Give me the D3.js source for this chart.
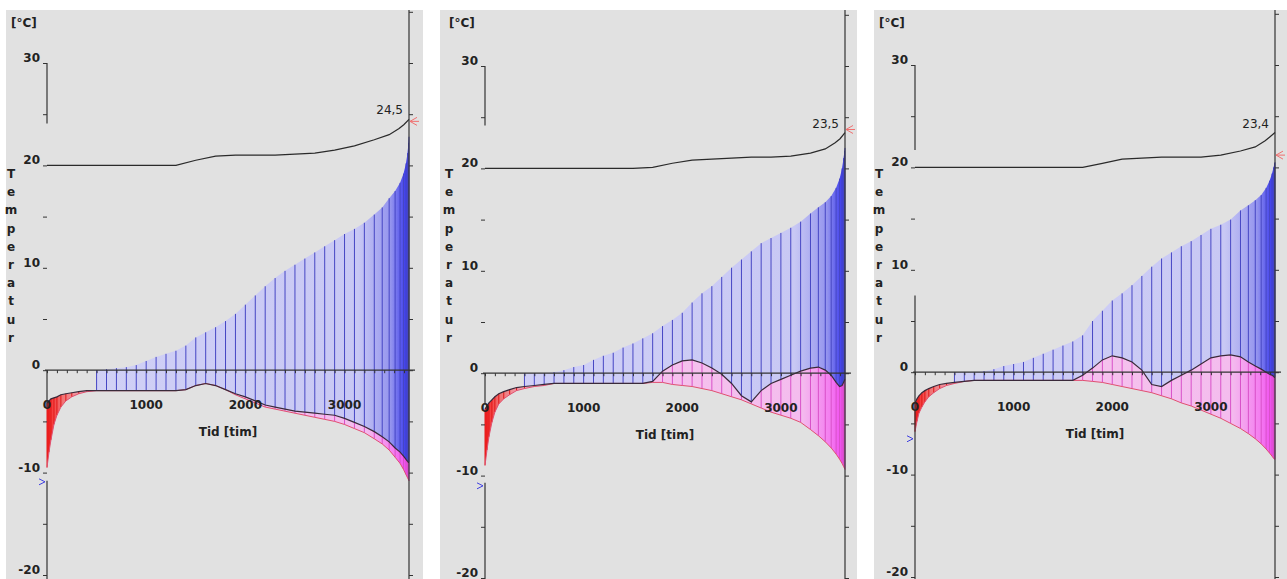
<!DOCTYPE html>
<html>
<head>
<meta charset="utf-8">
<script src="https://cdn.jsdelivr.net/npm/d3@7"></script>
<style>
  body { margin: 0; background: #fff; }
  svg { display: block; font-family: "DejaVu Sans", "Liberation Sans", sans-serif; }
</style>
</head>
<body>
<svg id="chart" width="1287" height="579"></svg>
<script>
// sample times [tim] for the filled bands
const tid = [0, 20, 40, 70, 100, 140, 190, 250, 320, 400,
  500, 600, 700, 800, 900, 1000, 1100, 1200, 1300, 1400,
  1500, 1600, 1700, 1800, 1900, 2000, 2100, 2200, 2300, 2400,
  2500, 2600, 2700, 2800, 2900, 3000, 3100, 3200, 3300,
  3380, 3450, 3510, 3560, 3595, 3620, 3635, 3645, 3650];

// upper edge of the blue band
const top1 = [null, null, null, null, null, null, null, null, null, null,
  0.0, 0.1, 0.2, 0.3, 0.5, 0.9, 1.3, 1.6, 1.9, 2.4,
  3.2, 3.7, 4.2, 4.8, 5.5, 6.4, 7.3, 8.2, 9.0, 9.7,
  10.3, 10.9, 11.5, 12.1, 12.7, 13.3, 13.8, 14.4, 15.2,
  15.9, 16.8, 17.5, 18.3, 19.2, 20.2, 21.2, 22.2, 22.8];
const top2 = [null, null, null, null, null, null, null, null, null, 0.0,
  0.0, 0.0, 0.1, 0.3, 0.6, 0.8, 1.3, 1.7, 2.0, 2.5,
  2.9, 3.4, 3.9, 4.6, 5.2, 5.9, 6.9, 7.8, 8.5, 9.4,
  10.3, 11.1, 11.9, 12.7, 13.2, 13.7, 14.2, 14.8, 15.6,
  16.2, 16.7, 17.3, 18.1, 19.0, 20.0, 21.0, 21.7, 22.0];
const top3 = [null, null, null, null, null, null, null, null, null, 0.0,
  0.0, 0.0, 0.1, 0.3, 0.6, 0.8, 1.0, 1.4, 1.8, 2.2,
  2.6, 3.0, 3.6, 5.0, 6.0, 7.0, 7.7, 8.5, 9.4, 10.3,
  11.1, 11.7, 12.3, 12.8, 13.4, 14.0, 14.4, 14.9, 15.8,
  16.3, 16.8, 17.3, 18.0, 18.7, 19.4, 20.0, 20.4, 20.5];

// black line between the bands
const mid1 = [-3.2, -3.0, -2.8, -2.7, -2.6, -2.4, -2.3, -2.2, -2.1, -2.0,
  -2.0, -2.0, -2.0, -2.0, -2.0, -2.0, -2.0, -2.0, -2.0, -1.9,
  -1.5, -1.3, -1.5, -1.9, -2.3, -2.6, -3.0, -3.4, -3.6, -3.8,
  -4.0, -4.1, -4.2, -4.3, -4.4, -4.7, -5.1, -5.5, -6.0,
  -6.5, -7.0, -7.6, -8.0, -8.4, -8.7, -8.9, -9.0, -9.0];
const mid2 = [-3.5, -3.2, -2.9, -2.6, -2.3, -2.0, -1.8, -1.6, -1.4, -1.3,
  -1.2, -1.1, -1.0, -1.0, -1.0, -1.0, -1.0, -1.0, -1.0, -1.0,
  -1.0, -1.0, -0.8, 0.2, 0.8, 1.2, 1.3, 1.0, 0.5, -0.1,
  -1.0, -2.2, -2.8, -1.7, -1.0, -0.6, -0.2, 0.2, 0.5,
  0.6, 0.3, -0.2, -0.9, -1.3, -1.2, -0.9, -0.7, -0.6];
const mid3 = [-3.0, -2.6, -2.3, -2.0, -1.8, -1.6, -1.4, -1.2, -1.1, -1.0,
  -0.9, -0.8, -0.8, -0.8, -0.8, -0.8, -0.8, -0.8, -0.8, -0.8,
  -0.8, -0.8, -0.3, 0.4, 1.2, 1.6, 1.4, 1.0, 0.2, -1.2,
  -1.4, -0.8, -0.3, 0.2, 0.8, 1.4, 1.6, 1.7, 1.5,
  1.0, 0.6, 0.3, 0.0, -0.2, -0.3, -0.4, -0.5, -0.5];

// lower edge of the red / pink band
const low1 = [-9.5, -8.0, -6.8, -5.3, -4.4, -3.6, -3.0, -2.6, -2.3, -2.1,
  -2.0, -2.0, -2.0, -2.0, -2.0, -2.0, -2.0, -2.0, -2.0, -1.9,
  -1.5, -1.3, -1.5, -1.9, -2.4, -2.8, -3.2, -3.6, -3.8, -4.0,
  -4.2, -4.4, -4.6, -4.8, -5.0, -5.3, -5.7, -6.1, -6.7,
  -7.2, -7.8, -8.5, -9.1, -9.7, -10.2, -10.5, -10.7, -10.8];
const low2 = [-9.0, -7.5, -6.2, -4.8, -3.8, -3.0, -2.5, -2.1, -1.7, -1.5,
  -1.3, -1.2, -1.0, -1.0, -1.0, -1.0, -1.0, -1.0, -1.0, -1.0,
  -1.0, -1.0, -0.9, -0.9, -1.1, -1.2, -1.3, -1.5, -1.7, -2.0,
  -2.3, -2.6, -3.0, -3.4, -3.8, -4.1, -4.4, -4.8, -5.5,
  -6.1, -6.7, -7.3, -7.9, -8.4, -8.8, -9.1, -9.3, -9.4];
const low3 = [-5.8, -4.8, -4.0, -3.4, -2.9, -2.4, -2.0, -1.6, -1.3, -1.1,
  -0.9, -0.8, -0.8, -0.8, -0.8, -0.8, -0.8, -0.8, -0.8, -0.8,
  -0.8, -0.8, -0.8, -0.9, -1.0, -1.2, -1.4, -1.6, -1.8, -2.0,
  -2.3, -2.6, -3.0, -3.3, -3.7, -4.1, -4.5, -5.0, -5.5,
  -6.0, -6.5, -7.0, -7.5, -7.9, -8.2, -8.4, -8.5, -8.5];

// indoor temperature curve
const tidT = [0, 1300, 1500, 1700, 1900, 2100, 2300, 2500, 2700, 2900, 3100, 3300, 3450, 3550, 3600, 3650];
const inne1 = [20.0, 20.0, 20.5, 20.9, 21.0, 21.0, 21.0, 21.1, 21.2, 21.5, 21.9, 22.5, 23.0, 23.6, 24.0, 24.5];
const inne2 = [20.0, 20.0, 20.0, 20.1, 20.5, 20.8, 20.9, 21.0, 21.1, 21.1, 21.2, 21.5, 21.9, 22.5, 22.9, 23.5];
const inne3 = [20.0, 20.0, 20.0, 20.0, 20.4, 20.8, 20.9, 21.0, 21.0, 21.0, 21.2, 21.6, 22.0, 22.6, 23.0, 23.4];

// small markers on the axes
const minMark = [-10.9, -11.0, -6.5];
const maxMark = [24.3, 23.8, 21.2];

// visible pieces of the left axis line
const leftAxisParts = [
  [[30, 24.1], [0, -3.6], [-10.8, -20.5]],
  [[30, 24.2], [0, -3.0], [-10.7, -20.5]],
  [[30, 21.7], [7.5, -20.5]]
];

const yLabels = [30, 20, 10, 0, -10, -20];
const xLabels = [0, 1000, 2000, 3000];
const yTitle = "Temperatur";
const xTitle = "Tid [tim]";
const unit = "[°C]";

const panels = [
  { bgX: 6, bgW: 417, axisX: 47, axisW: 362, y30: 63, top: top1, mid: mid1, low: low1, inne: inne1 },
  { bgX: 440, bgW: 417, axisX: 485, axisW: 360, y30: 66, top: top2, mid: mid2, low: low2, inne: inne2 },
  { bgX: 874, bgW: 413, axisX: 915, axisW: 360, y30: 65, top: top3, mid: mid3, low: low3, inne: inne3 }
];

const svg = d3.select("#chart");
const defs = svg.append("defs");
const fmt = v => d3.format(".1f")(v).replace(".", ",");

panels.forEach((p, k) => {
  const x = d3.scaleLinear().domain([0, 3650]).range([p.axisX, p.axisX + p.axisW]);
  const y = d3.scaleLinear().domain([30, -20]).range([p.y30, p.y30 + 512]);
  const g = svg.append("g");
  const idx = d3.range(tid.length);

  g.append("rect")
    .attr("x", p.bgX).attr("y", 10)
    .attr("width", p.bgW).attr("height", 569)
    .attr("fill", "#e1e1e1");

  // gradients for the bands
  const blueGrad = defs.append("linearGradient")
    .attr("id", "blue" + k).attr("gradientUnits", "userSpaceOnUse")
    .attr("x1", x(0)).attr("x2", x(3650)).attr("y1", 0).attr("y2", 0);
  [[0, "#d2d2f6"], [0.86, "#c8c8f4"], [0.95, "#9494ee"], [1, "#2c2cec"]].forEach(s =>
    blueGrad.append("stop").attr("offset", s[0]).attr("stop-color", s[1]));

  const pinkGrad = defs.append("linearGradient")
    .attr("id", "pink" + k).attr("gradientUnits", "userSpaceOnUse")
    .attr("x1", x(0)).attr("x2", x(3650)).attr("y1", 0).attr("y2", 0);
  [[0, "#f82020"], [0.04, "#f07070"], [0.12, "#f2b4c8"], [0.2, "#f6c6ec"], [0.88, "#f4bcee"], [0.96, "#f47cf0"], [1, "#f040f0"]].forEach(s =>
    pinkGrad.append("stop").attr("offset", s[0]).attr("stop-color", s[1]));

  // blue band: mid line up to top edge
  const blueArea = d3.area()
    .defined(i => p.top[i] != null)
    .x(i => x(tid[i]))
    .y0(i => y(p.mid[i]))
    .y1(i => y(p.top[i]));
  g.append("path").datum(idx).attr("d", blueArea).attr("fill", "url(#blue" + k + ")");

  // red / pink band: low edge up to mid line
  const pinkArea = d3.area()
    .x(i => x(tid[i]))
    .y0(i => y(p.low[i]))
    .y1(i => y(p.mid[i]));
  g.append("path").datum(idx).attr("d", pinkArea).attr("fill", "url(#pink" + k + ")");

  // hatch lines
  g.selectAll(".hb").data(idx.filter(i => p.top[i] != null && p.top[i] > p.mid[i]))
    .enter().append("line")
    .attr("x1", i => x(tid[i])).attr("x2", i => x(tid[i]))
    .attr("y1", i => y(p.mid[i])).attr("y2", i => y(p.top[i]))
    .attr("stroke", "#4646c4").attr("stroke-width", 1);

  g.selectAll(".hp").data(idx.filter(i => p.mid[i] > p.low[i]))
    .enter().append("line")
    .attr("x1", i => x(tid[i])).attr("x2", i => x(tid[i]))
    .attr("y1", i => y(p.low[i])).attr("y2", i => y(p.mid[i]))
    .attr("stroke", i => tid[i] < 600 ? "#e01818" : "#d850c8").attr("stroke-width", 1);

  // lower edge and mid line
  g.append("path").datum(idx)
    .attr("d", d3.line().x(i => x(tid[i])).y(i => y(p.low[i])))
    .attr("fill", "none").attr("stroke", "#e05070").attr("stroke-width", 1);
  g.append("path").datum(idx)
    .attr("d", d3.line().x(i => x(tid[i])).y(i => y(p.mid[i])))
    .attr("fill", "none").attr("stroke", "#3a2a3a").attr("stroke-width", 1.2);

  // x axis at 0
  g.append("line")
    .attr("x1", p.axisX - 2).attr("x2", p.axisX + p.axisW + 6)
    .attr("y1", y(0)).attr("y2", y(0))
    .attr("stroke", "#333").attr("stroke-width", 1.2);
  const xAxis = g.append("g")
    .attr("transform", `translate(0,${y(0)})`)
    .call(d3.axisBottom(x).tickValues(d3.range(0, 3700, 100)).tickSize(3).tickFormat(""));
  xAxis.select(".domain").remove();
  xAxis.selectAll("line").attr("stroke", "#333");

  g.selectAll(".xl").data(xLabels).enter().append("text")
    .attr("x", d => x(d)).attr("y", y(0) + 39)
    .attr("text-anchor", "middle")
    .attr("font-size", "12px").attr("font-weight", "bold").attr("fill", "#222")
    .text(d => d);

  g.append("text")
    .attr("x", p.axisX + p.axisW / 2).attr("y", y(0) + 66)
    .attr("text-anchor", "middle")
    .attr("font-size", "12px").attr("font-weight", "bold").attr("fill", "#222")
    .text(xTitle);

  // left axis
  const leftAxis = g.append("g")
    .attr("transform", `translate(${p.axisX},0)`)
    .call(d3.axisLeft(y).tickValues(d3.range(-20, 31, 5)).tickSize(4).tickFormat(""));
  leftAxis.select(".domain").remove();
  leftAxis.selectAll("line").attr("stroke", "#333");
  leftAxisParts[k].forEach(s => {
    g.append("line")
      .attr("x1", p.axisX).attr("x2", p.axisX)
      .attr("y1", y(s[0])).attr("y2", y(s[1]))
      .attr("stroke", "#333").attr("stroke-width", 1.2);
  });

  g.selectAll(".yl").data(yLabels).enter().append("text")
    .attr("x", p.axisX - 7).attr("y", d => y(d) - 1)
    .attr("text-anchor", "end")
    .attr("font-size", "12px").attr("font-weight", "bold").attr("fill", "#222")
    .text(d => d);

  // right axis
  const rightX = p.axisX + p.axisW;
  g.append("line")
    .attr("x1", rightX).attr("x2", rightX)
    .attr("y1", 10).attr("y2", 579)
    .attr("stroke", "#333").attr("stroke-width", 1.2);
  const rightAxis = g.append("g")
    .attr("transform", `translate(${rightX},0)`)
    .call(d3.axisRight(y).tickValues(d3.range(-20, 36, 5)).tickSize(4).tickFormat(""));
  rightAxis.select(".domain").remove();
  rightAxis.selectAll("line").attr("stroke", "#333");

  // titles
  g.append("text")
    .attr("x", p.axisX - 36).attr("y", 27)
    .attr("font-size", "12px").attr("font-weight", "bold").attr("fill", "#222")
    .text(unit);

  g.selectAll(".yt").data(yTitle.split("")).enter().append("text")
    .attr("x", p.axisX - 36).attr("y", (d, i) => 178 + i * 18.2)
    .attr("text-anchor", "middle")
    .attr("font-size", "12px").attr("font-weight", "bold").attr("fill", "#222")
    .text(d => d);

  // indoor temperature
  g.append("path").datum(p.inne)
    .attr("d", d3.line().x((d, i) => x(tidT[i])).y(d => y(d)))
    .attr("fill", "none").attr("stroke", "#2a2a2a").attr("stroke-width", 1.2);

  const last = p.inne[p.inne.length - 1];
  g.append("text")
    .attr("x", rightX - 6).attr("y", y(last) - 5)
    .attr("text-anchor", "end")
    .attr("font-size", "12px").attr("fill", "#222")
    .text(fmt(last));

  // markers
  const ym = y(maxMark[k]);
  g.append("path")
    .attr("d", `M${rightX + 8},${ym - 4}L${rightX + 1},${ym}L${rightX + 8},${ym + 4}M${rightX + 1},${ym}H${rightX + 10}`)
    .attr("fill", "none").attr("stroke", "#f07070").attr("stroke-width", 1);
  const yn = y(minMark[k]);
  g.append("path")
    .attr("d", `M${p.axisX - 8},${yn - 3}L${p.axisX - 2},${yn}L${p.axisX - 8},${yn + 3}`)
    .attr("fill", "none").attr("stroke", "#4040e0").attr("stroke-width", 1);
});
</script>
</body>
</html>
